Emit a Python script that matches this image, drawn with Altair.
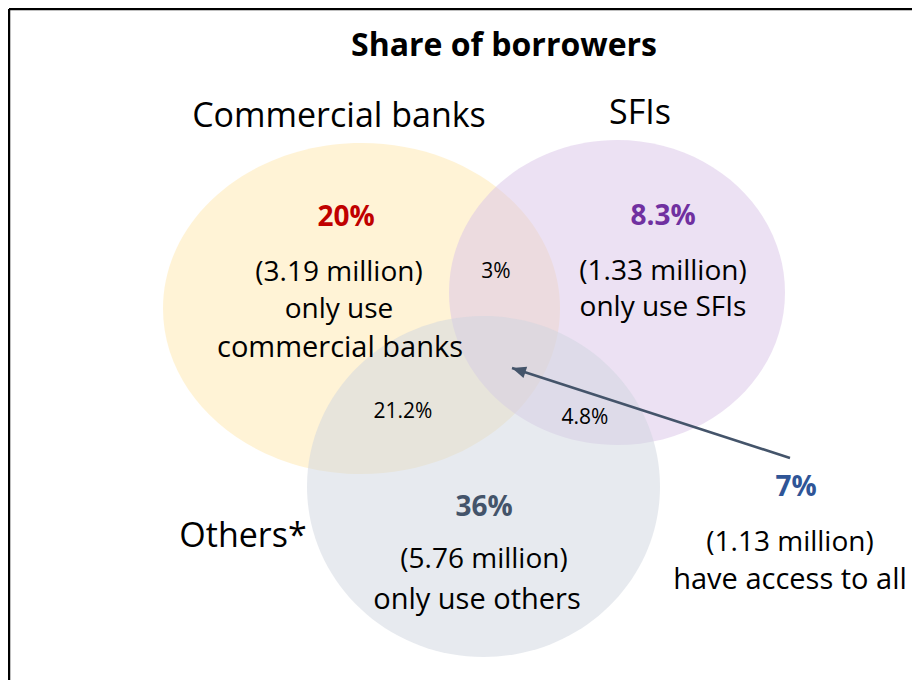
import math
import altair as alt
import pandas as pd

# ---------------- data ----------------
set_names = ["Commercial banks", "SFIs", "Others"]
set_cx = [361.5, 617.0, 483.5]
set_cy = [308.5, 292.5, 486.5]
set_rx = [198.5, 168.0, 176.5]
set_ry = [165.5, 152.5, 170.5]

label_text = [
    "Share of borrowers",
    "Commercial banks", "SFIs", "Others*",
    "20%", "(3.19 million)", "only use", "commercial banks",
    "3%",
    "8.3%", "(1.33 million)", "only use SFIs",
    "21.2%", "4.8%",
    "36%", "(5.76 million)", "only use others",
    "7%", "(1.13 million)", "have access to all",
]
label_x = [504, 339, 640, 243, 346, 339, 339, 340, 496, 663, 663, 663,
           403, 585, 484, 484, 477, 796, 790, 790]
label_y = [46, 117, 114, 537, 218, 273, 310, 348, 272, 217, 272, 308,
           412, 418, 508, 560, 600, 488, 543, 580]
label_bold = [True, False, False, False, True, False, False, False, False,
              True, False, False, False, False, True, False, False,
              True, False, False]
label_color = ["#000000", "#000000", "#000000", "#000000", "#C00000",
               "#000000", "#000000", "#000000", "#000000", "#7030A0",
               "#000000", "#000000", "#000000", "#000000", "#44546A",
               "#000000", "#000000", "#2F5597", "#000000", "#000000"]
label_size = [32, 34, 34, 34, 28, 28, 28, 29, 21, 28, 28, 28, 21, 21,
              28, 28, 29, 28, 28, 29]

arrow_from = [790, 458]
arrow_to = [512, 368]

frame_x = [9, 912]
frame_y = [9, 680]

# ---------------- styles ----------------
set_fill = ["#FFE7AD", "#D9C3E7", "#CFD5DF"]
FONT = "Open Sans"
W, H = 904, 672
xs = alt.Scale(domain=[8, 8 + W], nice=False, zero=False)
ys = alt.Scale(domain=[8, 8 + H], nice=False, zero=False, reverse=True)


def ellipse_path(e):
    k = 0.5523
    f = lambda v: f"{v:.4f}"
    return (f"M -1 0 C -1 {f(-k*e)} {f(-k)} {f(-e)} 0 {f(-e)} "
            f"C {f(k)} {f(-e)} 1 {f(-k*e)} 1 0 "
            f"C 1 {f(k*e)} {f(k)} {f(e)} 0 {f(e)} "
            f"C {f(-k)} {f(e)} -1 {f(k*e)} -1 0 Z")


sets = pd.DataFrame({"name": set_names, "cx": set_cx, "cy": set_cy})
layers = []
for i, nm in enumerate(set_names):
    layers.append(
        alt.Chart(sets).transform_filter(alt.datum.name == nm)
        .mark_point(filled=True, opacity=0.5, strokeWidth=0,
                    shape=ellipse_path(set_ry[i] / set_rx[i]),
                    size=(2 * set_rx[i]) ** 2, color=set_fill[i])
        .encode(x=alt.X("cx:Q", scale=xs, axis=None),
                y=alt.Y("cy:Q", scale=ys, axis=None))
    )

# frame (left and top edges)
frame_left = alt.Chart(pd.DataFrame({"x": [frame_x[0]], "y": [frame_y[0]], "y2": [frame_y[1]]})).mark_rule(
    color="#000000", strokeWidth=2.5).encode(
    x=alt.X("x:Q", scale=xs, axis=None), y=alt.Y("y:Q", scale=ys, axis=None), y2="y2:Q")
frame_top = alt.Chart(pd.DataFrame({"x": [frame_x[0]], "x2": [frame_x[1]], "y": [frame_y[0]]})).mark_rule(
    color="#000000", strokeWidth=2.5).encode(
    x=alt.X("x:Q", scale=xs, axis=None), x2="x2:Q", y=alt.Y("y:Q", scale=ys, axis=None))

# arrow
arr = pd.DataFrame({"x": [arrow_from[0]], "y": [arrow_from[1]],
                    "x2": [arrow_to[0]], "y2": [arrow_to[1]]})
ang = math.degrees(math.atan2(arrow_to[1] - arrow_from[1], arrow_to[0] - arrow_from[0])) % 360
arrow_line = alt.Chart(arr).mark_rule(color="#44546A", strokeWidth=2.5).encode(
    x=alt.X("x:Q", scale=xs, axis=None), y=alt.Y("y:Q", scale=ys, axis=None),
    x2="x2:Q", y2="y2:Q")
arrow_head = alt.Chart(arr).mark_point(
    filled=True, color="#44546A", opacity=1, strokeWidth=0,
    shape="M 0 0 L -2 -0.85 L -2 0.85 Z", size=196, angle=ang).encode(
    x=alt.X("x2:Q", scale=xs, axis=None), y=alt.Y("y2:Q", scale=ys, axis=None))

labels = pd.DataFrame({"text": label_text, "x": label_x, "y": label_y,
                       "bold": label_bold, "color": label_color, "size": label_size})


def text_layer(bold):
    return alt.Chart(labels).transform_filter(alt.datum.bold == bold).mark_text(
        font=FONT, align="center", baseline="middle",
        fontWeight="bold" if bold else "normal").encode(
        x=alt.X("x:Q", scale=xs, axis=None), y=alt.Y("y:Q", scale=ys, axis=None),
        text="text:N", color=alt.Color("color:N", scale=None),
        size=alt.Size("size:Q", scale=None))


chart = alt.layer(*layers, frame_left, frame_top, arrow_line, arrow_head,
                  text_layer(False), text_layer(True)).properties(
    width=W, height=H, padding=0, autosize=alt.AutoSizeParams(type="none"),
    background="white",
).configure_view(stroke=None)

chart.save("out.html", embed_options={"renderer": "svg", "actions": False})
